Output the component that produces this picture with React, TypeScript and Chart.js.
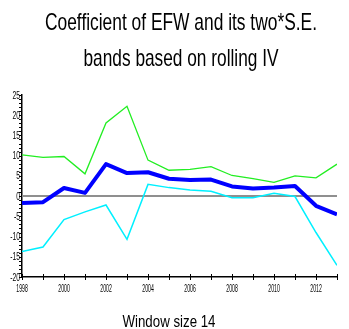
import React, { useEffect, useRef } from 'react';
import { Chart, registerables } from 'chart.js';

Chart.register(...registerables);

// ---- data ----
const years = [1998, 1999, 2000, 2001, 2002, 2003, 2004, 2005, 2006, 2007, 2008, 2009, 2010, 2011, 2012, 2013];
const coefficient = [-1.7, -1.5, 2.0, 0.8, 7.9, 5.7, 5.9, 4.3, 4.0, 4.1, 2.4, 1.9, 2.1, 2.5, -2.4, -4.5];
const upperBand = [10.2, 9.6, 9.8, 5.5, 18.1, 22.2, 8.9, 6.4, 6.6, 7.3, 5.1, 4.3, 3.4, 5.0, 4.5, 7.9];
const lowerBand = [-13.7, -12.6, -5.8, -3.9, -2.2, -10.7, 2.9, 2.1, 1.5, 1.2, -0.4, -0.4, 0.7, -0.1, -9.0, -17.1];
const xTickLabels = ['1998', '2000', '2002', '2004', '2006', '2008', '2010', '2012'];
const yTickLabels = ['-20', '-15', '-10', '-5', '0', '5', '10', '15', '20', '25'];
const titleLines = ['Coefficient of EFW and its two*S.E.', 'bands based on rolling IV'];
const xTitle = 'Window size 14';

const FONT = '"Liberation Sans Narrow", "Liberation Sans", Arial, sans-serif';

function drawSquished(
  ctx: CanvasRenderingContext2D,
  text: string,
  x: number,
  y: number,
  size: number,
  scaleX: number,
  align: CanvasTextAlign,
  baseline: CanvasTextBaseline
) {
  ctx.save();
  ctx.font = `${size}px ${FONT}`;
  ctx.fillStyle = '#000';
  ctx.textAlign = align;
  ctx.textBaseline = baseline;
  ctx.translate(x, y);
  ctx.scale(scaleX, 1);
  ctx.fillText(text, 0, 0);
  ctx.restore();
}

function fitScale(ctx: CanvasRenderingContext2D, text: string, size: number, target: number) {
  ctx.save();
  ctx.font = `${size}px ${FONT}`;
  const w = ctx.measureText(text).width;
  ctx.restore();
  return w > 0 ? target / w : 1;
}

const decorPlugin = {
  id: 'decor',
  beforeDatasetsDraw(chart: any) {
    const { ctx, chartArea } = chart;
    const y = chart.scales.y;
    const py = y.getPixelForValue(0);
    ctx.save();
    ctx.strokeStyle = '#8f8f8f';
    ctx.lineWidth = 2;
    ctx.beginPath();
    ctx.moveTo(chartArea.left, py);
    ctx.lineTo(chartArea.right, py);
    ctx.stroke();
    ctx.restore();
  },
  afterDraw(chart: any) {
    const { ctx, chartArea } = chart;
    const xs = chart.scales.x;
    const ys = chart.scales.y;

    // tick marks
    ctx.save();
    ctx.strokeStyle = '#000';
    ctx.lineWidth = 1;
    ctx.beginPath();
    xs.ticks.forEach((t: any) => {
      const px = Math.round(xs.getPixelForValue(t.value)) + 0.5;
      ctx.moveTo(px, chartArea.bottom - 3);
      ctx.lineTo(px, chartArea.bottom + 3);
    });
    ys.ticks.forEach((t: any) => {
      const py = Math.round(ys.getPixelForValue(t.value)) + 0.5;
      ctx.moveTo(chartArea.left - 3, py);
      ctx.lineTo(chartArea.left, py);
    });
    ctx.stroke();
    ctx.restore();

    // tick labels
    const xsx = fitScale(ctx, '0000', 11.5, 11.5);
    xTickLabels.forEach((lab) => {
      const px = xs.getPixelForValue(Number(lab));
      drawSquished(ctx, lab, px, chartArea.bottom + 6, 11.5, xsx, 'center', 'top');
    });
    const ysx = fitScale(ctx, '00', 11, 7.5);
    yTickLabels.forEach((lab) => {
      const py = ys.getPixelForValue(Number(lab));
      drawSquished(ctx, lab, chartArea.left - 2, py + 0.5, 11, ysx, 'right', 'middle');
    });

    // titles
    const cx = 181;
    drawSquished(ctx, titleLines[0], cx, 30, 24, fitScale(ctx, titleLines[0], 24, 272), 'center', 'alphabetic');
    drawSquished(ctx, titleLines[1], cx, 66, 24, fitScale(ctx, titleLines[1], 24, 195), 'center', 'alphabetic');
    drawSquished(ctx, xTitle, 169, 327, 17, fitScale(ctx, xTitle, 17, 93), 'center', 'alphabetic');
  },
};

export default function App() {
  const ref = useRef<HTMLCanvasElement | null>(null);

  useEffect(() => {
    document.body.style.margin = '0';
    const canvas = ref.current;
    if (!canvas) return;
    const pts = (vals: number[]) => years.map((yr, i) => ({ x: yr, y: vals[i] }));
    const chart = new Chart(canvas, {
      type: 'line',
      data: {
        datasets: [
          {
            label: 'Coefficient of EFW',
            data: pts(coefficient),
            borderColor: '#0000ff',
            borderWidth: 4,
            pointRadius: 0,
            tension: 0,
            borderJoinStyle: 'round',
          },
          {
            label: 'Upper band',
            data: pts(upperBand),
            borderColor: '#22ee22',
            borderWidth: 1.3,
            pointRadius: 0,
            tension: 0,
          },
          {
            label: 'Lower band',
            data: pts(lowerBand),
            borderColor: '#00f0ff',
            borderWidth: 1.5,
            pointRadius: 0,
            tension: 0,
          },
        ],
      },
      options: {
        responsive: false,
        animation: false,
        devicePixelRatio: 1,
        layout: { padding: { top: 95, right: 12, left: 0, bottom: 0 } },
        plugins: {
          legend: { display: false },
          tooltip: { enabled: false },
          title: { display: false },
        },
        scales: {
          x: {
            type: 'linear',
            min: 1998,
            max: 2013,
            ticks: { display: false, stepSize: 1 },
            grid: { display: true, drawOnChartArea: false, drawTicks: false },
            border: { display: true, color: '#000', width: 1.5 },
            afterFit: (s: any) => {
              s.height = 52;
            },
          },
          y: {
            type: 'linear',
            min: -20,
            max: 25,
            ticks: { display: false, stepSize: 1 },
            grid: { display: true, drawOnChartArea: false, drawTicks: false },
            border: { display: true, color: '#000', width: 1.5 },
            afterFit: (s: any) => {
              s.width = 22;
            },
          },
        },
      },
      plugins: [decorPlugin],
    });
    return () => chart.destroy();
  }, []);

  return (
    <div style={{ position: 'absolute', left: 0, top: 0, width: 349, height: 329, background: '#fff' }}>
      <canvas ref={ref} width={349} height={329} style={{ display: 'block', width: 349, height: 329 }} />
    </div>
  );
}
